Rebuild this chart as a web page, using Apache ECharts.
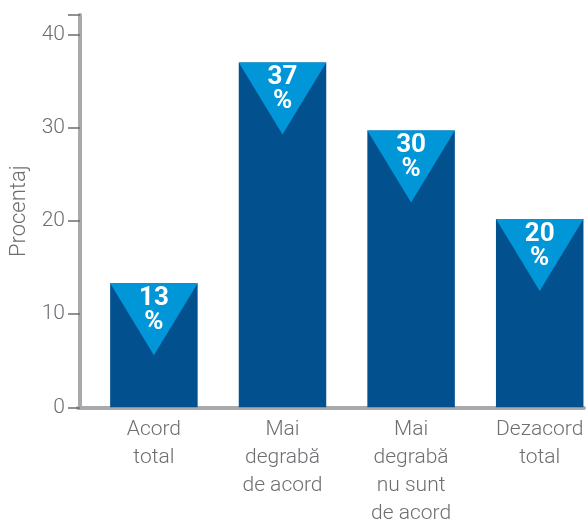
<!DOCTYPE html>
<html>
<head>
<meta charset="utf-8">
<script src="https://cdn.jsdelivr.net/npm/echarts@6/dist/echarts.min.js"></script>
<style>
  html, body { margin: 0; padding: 0; background: #fff; }
  #chart { width: 587px; height: 521px; }
</style>
</head>
<body>
<div id="chart"></div>
<script>
var categories = ['Acord\ntotal', 'Mai\ndegrabă\nde acord', 'Mai\ndegrabă\nnu sunt\nde acord', 'Dezacord\ntotal'];
var values = [13.3, 37, 29.7, 20.2];
var yTicks = [0, 10, 20, 30, 40];

var axisGray = '#a7a9ac';
var textGray = '#6d6e71';
var font = 'Roboto, "Liberation Sans", sans-serif';

var chart = echarts.init(document.getElementById('chart'));
var option = {
    animation: false,
    grid: [
        // bars
        { left: 89.6, width: 514.4, top: 15, bottom: 113.7, outerBoundsMode: 'none', containLabel: false },
        // axes frame
        { left: 78, right: 3, top: 15, bottom: 113.7, outerBoundsMode: 'none', containLabel: false }
    ],
    xAxis: [{
        gridIndex: 0,
        type: 'category',
        data: categories,
        axisLine: { show: false },
        axisTick: { show: false },
        axisLabel: {
            color: textGray,
            fontFamily: font,
            fontWeight: 300,
            fontSize: 21,
            lineHeight: 28,
            margin: 8,
            interval: 0
        }
    }, {
        gridIndex: 1,
        type: 'value',
        min: 0,
        max: 1,
        offset: 2,
        axisLine: { show: true, lineStyle: { color: axisGray, width: 4 } },
        axisTick: { show: false },
        axisLabel: { show: false },
        splitLine: { show: false }
    }],
    yAxis: [{
        gridIndex: 0,
        type: 'value',
        min: 0,
        max: 42.1,
        interval: 10,
        show: false
    }, {
        gridIndex: 1,
        type: 'value',
        min: 0,
        max: 42.1,
        interval: 10,
        offset: -2,
        name: 'Procentaj',
        nameLocation: 'middle',
        nameGap: 45,
        nameTextStyle: { color: textGray, fontFamily: font, fontWeight: 300, fontSize: 22 },
        axisLine: { show: true, lineStyle: { color: axisGray, width: 4 } },
        axisTick: { show: true, length: 12, lineStyle: { color: textGray, width: 1.5 } },
        axisLabel: {
            color: textGray,
            fontFamily: font,
            fontWeight: 300,
            fontSize: 21,
            margin: 15,
            formatter: function(v) { return yTicks.indexOf(v) >= 0 ? v : ''; }
        },
        splitLine: { show: false }
    }],
    series: [{
        type: 'bar',
        xAxisIndex: 0,
        yAxisIndex: 0,
        data: values,
        barWidth: 87.5,
        itemStyle: { color: '#03508f' }
    }, {
        type: 'scatter',
        xAxisIndex: 0,
        yAxisIndex: 0,
        data: values,
        symbol: 'path://M0,0 L2,0 L1,2 Z',
        symbolKeepAspect: false,
        symbolSize: [87.5, 72],
        symbolOffset: [0, 36],
        itemStyle: { color: '#0096d8', opacity: 1 },
        label: {
            show: true,
            position: 'inside',
            offset: [0, -9],
            color: '#fff',
            fontFamily: font,
            fontWeight: 'bold',
            fontSize: 26,
            lineHeight: 24,
            formatter: function(p) { return Math.round(p.value) + '\n%'; }
        },
        z: 3
    }]
};
chart.setOption(option);
</script>
</body>
</html>
